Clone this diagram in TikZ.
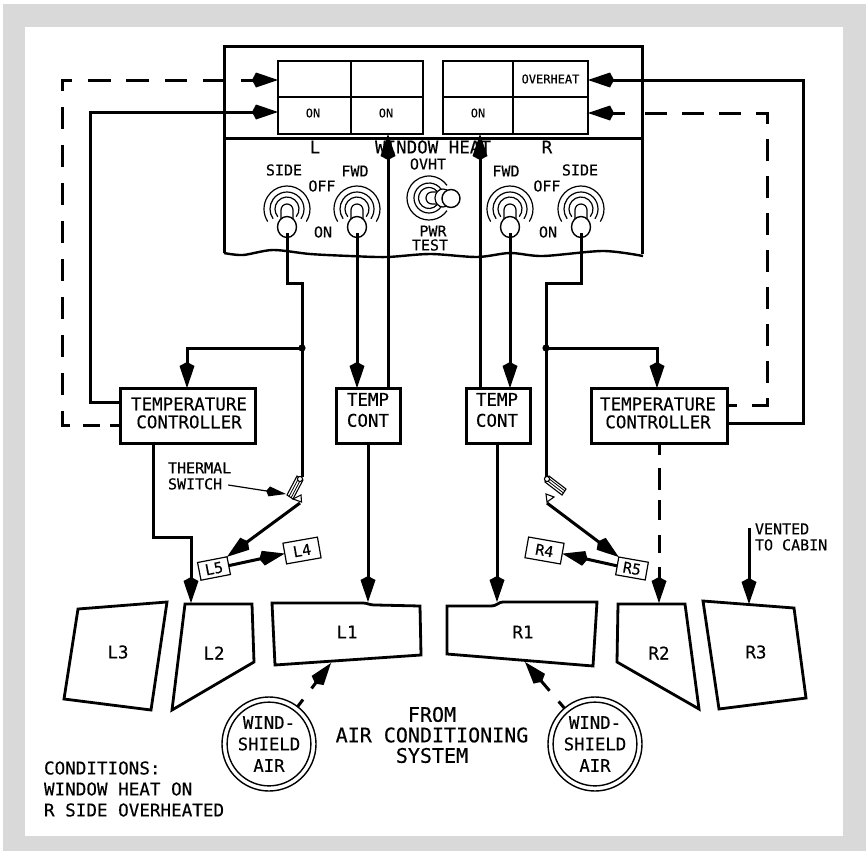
\documentclass[tikz,border=0pt]{standalone}
\usepackage{fontspec}
\setmainfont[FakeBold=0.25]{DejaVu Sans Mono}
\usetikzlibrary{arrows.meta}
\definecolor{framegray}{HTML}{D9D9D9}
\tikzset{
  x=1pt,y=-1pt,
  bigkite/.tip={Kite[length=26pt,width=15pt,inset=4pt,line width=0pt]},
  smallkite/.tip={Kite[length=20pt,width=10pt,inset=3pt,line width=0pt]},
  wire/.style={line width=3pt},
  arrowwire/.style={wire,-bigkite},
  panelline/.style={line width=3pt},
  glass/.style={line width=2.8pt,line join=miter},
  swline/.style={line width=1.2pt},
  f12/.style={font=\fontsize{12}{14}\selectfont},
  f15/.style={font=\fontsize{15}{16}\selectfont},
  f17/.style={font=\fontsize{17.5}{18}\selectfont},
  f18/.style={font=\fontsize{17.6}{21}\selectfont},
  f20/.style={font=\fontsize{20}{20.5}\selectfont},
  lbl/.style={inner sep=0pt,outer sep=0pt,align=center},
  cell/.style={draw,line width=2.7pt,inner sep=0pt,outer sep=0pt,anchor=north west,f12},
  box/.style={draw,line width=3pt,inner sep=0pt,outer sep=0pt,fill=white},
  tag/.style={draw,line width=1.2pt,inner sep=0pt,outer sep=0pt,fill=white,f15},
  airring/.style={circle,draw,line width=1.4pt,inner sep=0pt,outer sep=0pt},
}
\newcommand{\vtoggle}[1]{%
  \begin{scope}[shift={(#1,209)}]
    \draw[swline] ({23*cos(33)},{23*sin(33)}) arc[start angle=-33,end angle=213,radius=23pt];
    \draw[swline] ({17*cos(35)},{17*sin(35)}) arc[start angle=-35,end angle=215,radius=17pt];
    \draw[swline] ({12*cos(40)},{12*sin(40)}) arc[start angle=-40,end angle=220,radius=12pt];
    \draw[swline,fill=white] (-6,12) -- (-6,1) arc[start angle=180,end angle=0,radius=6pt] -- (6,12);
    \draw[line width=1.4pt,fill=white] (0,18) ellipse[x radius=9.5pt,y radius=10.5pt];
  \end{scope}}
\begin{document}
\begin{tikzpicture}
\useasboundingbox (0,0) rectangle (868,854);
\fill[white] (0,0) rectangle (868,854);
\fill[framegray] (3,4) rectangle (866,851);
\fill[white] (25,27) rectangle (843,836);

% panel
\draw[panelline] (222.5,46) -- (642,46);
\draw[panelline] (224,46) -- (224,253);
\draw[panelline] (642,45) -- (642,254);
\draw[panelline] (224,138) -- (642,138);
\draw[line width=2.4pt] plot[smooth] coordinates {(224,253) (243,255) (273,250) (310,254) (350,256) (387,257) (430,254) (477,257) (510,253) (543,256) (603,251) (643,256)};

% annunciators
\node[cell,minimum width=73pt,minimum height=36pt] (aLa) at (278,61) {};
\node[cell,minimum width=72pt,minimum height=36pt] (aLb) at (351,61) {};
\node[cell,minimum width=73pt,minimum height=37pt] (aLc) at (278,97) {};
\node[cell,minimum width=72pt,minimum height=37pt] (aLd) at (351,97) {};
\node[cell,minimum width=70pt,minimum height=36pt] (aRa) at (443,61) {};
\node[cell,minimum width=75pt,minimum height=36pt] (aRb) at (513,61) {OVERHEAT};
\node[cell,minimum width=70pt,minimum height=37pt] (aRc) at (443,97) {};
\node[cell,minimum width=75pt,minimum height=37pt] (aRd) at (513,97) {};
\node[lbl,f12] (on1) at (313,113) {ON};
\node[lbl,f12] (on2) at (386,113) {ON};
\node[lbl,f12] (on3) at (478,113) {ON};

% panel labels
\node[lbl,f17] (tL) at (315,147) {L};
\node[lbl,f17] (tWH) at (433,147) {WINDOW HEAT};
\node[lbl,f17] (tR) at (547,147) {R};
\node[lbl,f15] (t1) at (284,170) {SIDE};
\node[lbl,f15] (t2) at (355,171) {FWD};
\node[lbl,f15] (t3) at (322,186) {OFF};
\node[lbl,f15] (t4) at (323,232) {ON};
\node[lbl,f15] (t5) at (428,164) {OVHT};
\node[lbl,f15] (t6) at (433,231) {PWR};
\node[lbl,f15] (t7) at (430,245) {TEST};
\node[lbl,f15] (t8) at (506,171) {FWD};
\node[lbl,f15] (t9) at (547,186) {OFF};
\node[lbl,f15] (t10) at (548,232) {ON};
\node[lbl,f15] (t11) at (580,170) {SIDE};

% boxes
\node[box,minimum width=135pt,minimum height=55pt] (tcL) at (187.5,415.5) {};
\node[box,minimum width=136pt,minimum height=55pt] (tcR) at (659,415.5) {};
\node[box,minimum width=64pt,minimum height=55pt] (cL) at (368.5,415.5) {};
\node[box,minimum width=64pt,minimum height=55pt] (cR) at (498,415.5) {};
\node[lbl,f17] (tcLt) at (189,413) {TEMPERATURE\\CONTROLLER};
\node[lbl,f17] (tcRt) at (658,413) {TEMPERATURE\\CONTROLLER};
\node[lbl,font=\fontsize{17.5}{21}\selectfont] (cLt) at (368,410) {TEMP\\CONT};
\node[lbl,font=\fontsize{17.5}{21}\selectfont] (cRt) at (497,410) {TEMP\\CONT};

% coordinates
\coordinate (swLs) at (287,226);
\coordinate (swLf) at (357,226);
\coordinate (swRf) at (510,226);
\coordinate (swRs) at (581,226);
\coordinate (jL) at (302,348);
\coordinate (jR) at (546,348);
\coordinate (thL) at (302,477);
\coordinate (thR) at (546,477);
\coordinate (thLo) at (300,503);
\coordinate (thRo) at (547,503);
\coordinate (tipL2) at (191,603);
\coordinate (tipL1) at (368,602);
\coordinate (tipR1) at (497,602);
\coordinate (tipR2) at (659,603);
\coordinate (ventS) at (749,528);
\coordinate (tipR3) at (749,604);
\coordinate (tipW1) at (331,663);
\coordinate (tipW2) at (525,662);
\coordinate (stubL) at (241,80);
\coordinate (stubR) at (625,113);

% left wires into annunciators
\draw[arrowwire] (tcL.west |- 0,402) -- (90,402) -- (90,112) -- (aLc.west |- 0,112);
\draw[wire,dash pattern=on 21pt off 16pt on 22pt off 16pt on 23pt off 15pt on 23pt off 16pt on 21pt off 16pt on 22pt off 16pt on 22pt off 16pt on 22pt off 16pt on 22pt off 16pt on 22pt off 16pt on 22pt off 16pt on 22pt off 16pt on 22pt off 16pt on 22pt off 13pt on 17pt off 10pt on 15pt off 5pt] (224,80) -- (62,80) -- (62,425) -- (tcL.west |- 0,425);
\draw[arrowwire] (stubL) -- (aLa.west |- 0,80);

% right wires into annunciators
\draw[arrowwire] (tcR.east |- 0,423) -- (803,423) -- (803,80) -- (aRb.east |- 0,80);
\draw[wire,dash pattern=on 22pt off 15pt,dash phase=12pt] (tcR.east |- 0,405) -- (767,405) -- (767,113) -- (643,113);
\draw[arrowwire] (stubR) -- (aRd.east |- 0,113);

% vertical wires
\draw[wire] (swLs) -- (287,283) -- (302,283) -- (thL);
\draw[wire] (swRs) -- (581,283) -- (546,283) -- (thR);
\draw[arrowwire] (swLf) -- (cL.north -| swLf);
\draw[arrowwire] (swRf) -- (cR.north -| swRf);
\draw[arrowwire] (cL.north -| 388,0) -- (388,134);
\draw[arrowwire] (cR.north -| 480,0) -- (480,134);
\draw[arrowwire] (jL) -- (187,348) -- (tcL.north -| 187,0);
\draw[arrowwire] (jR) -- (657,348) -- (tcR.north -| 657,0);
\fill (jL) circle[radius=3.6pt];
\fill (jR) circle[radius=3.6pt];

% toggles
\vtoggle{287}
\vtoggle{357}
\vtoggle{510}
\vtoggle{581}
\begin{scope}[shift={(429,198)}]
  \draw[swline] ({22*cos(35)},{22*sin(35)}) arc[start angle=-35,end angle=-325,radius=22pt];
  \draw[swline] ({15*cos(35)},{15*sin(35)}) arc[start angle=-35,end angle=-325,radius=15pt];
  \draw[swline] ({10.5*cos(40)},{10.5*sin(40)}) arc[start angle=-40,end angle=-320,radius=10.5pt];
  \draw[swline,fill=white] (12,-6) -- (3,-6) arc[start angle=90,end angle=270,radius=6pt] -- (12,6);
  \draw[swline,fill=white] (14,0) ellipse[x radius=8pt,y radius=9pt];
  \draw[line width=1.4pt,fill=white] (22,0.5) circle[radius=9pt];
\end{scope}
\draw[wire] (swLs) ++(0,7) -- ++(0,10);
\draw[wire] (swLf) ++(0,7) -- ++(0,10);
\draw[wire] (swRf) ++(0,7) -- ++(0,10);
\draw[wire] (swRs) ++(0,7) -- ++(0,10);

% windows
\draw[glass] (78,609) -- (167,602) -- (151,710) -- (64,699) -- cycle;
\draw[glass] (185,604) -- (252,604) -- (254,662) -- (172,710) -- cycle;
\draw[glass] (272,603) -- (363,603) .. controls (368,603) and (368,605) .. (376,605) -- (420,606) -- (421,655) -- (275,665) -- cycle;
\draw[glass] (447,606) -- (490,606) .. controls (498,606) and (498,602) .. (503,602) -- (597,602) -- (593,666) -- (447,654) -- cycle;
\draw[glass] (618,604) -- (685,604) -- (699,709) -- (617,662) -- cycle;
\draw[glass] (703,601) -- (794,608) -- (806,698) -- (719,709) -- cycle;
\node[lbl,f17] (nL1) at (347,632) {L1};
\node[lbl,f17] (nL2) at (214,653) {L2};
\node[lbl,f17] (nL3) at (118,652) {L3};
\node[lbl,f17] (nR1) at (523,632) {R1};
\node[lbl,f17] (nR2) at (659,653) {R2};
\node[lbl,f17] (nR3) at (756,652) {R3};

% thermal switches
\draw[line width=1.1pt,fill=white] (303,480) -- (297,476) -- (287,495) -- (293,499) -- cycle;
\draw[line width=0.8pt] (301,479) -- (291,498) (299,477.5) -- (289,496.5);
\draw[line width=1.1pt,fill=white] (300,479) circle[radius=2.6pt];
\draw[line width=1.1pt,fill=white] (301,495) -- (301.5,502) -- (293,499) -- cycle;
\draw[line width=1.1pt,fill=white] (549,476) -- (545,482) -- (562,495) -- (566,489) -- cycle;
\draw[line width=0.8pt] (548,478) -- (565,491) (546.5,480) -- (563.5,493);
\draw[line width=1.1pt,fill=white] (547,479) circle[radius=2.6pt];
\draw[line width=1.1pt,fill=white] (546,494) -- (554,497) -- (547,502) -- cycle;

% tags
\node[tag,rotate=11,minimum width=30pt,minimum height=18pt] (L5) at (214,568.5) {L5};
\node[tag,rotate=10,minimum width=35pt,minimum height=21pt] (L4) at (302,550.5) {L4};
\node[tag,rotate=-10,minimum width=36pt,minimum height=21pt] (R4) at (544.5,550.5) {R4};
\node[tag,rotate=-10,minimum width=30pt,minimum height=18pt] (R5) at (632,568.5) {R5};
\draw[arrowwire] (thLo) -- (L5.north east);
\draw[arrowwire] (thRo) -- (R5.north west);
\draw[arrowwire] (L5.east) -- (L4.west);
\draw[arrowwire] (R5.west) -- (R4.east);

% thermal label
\node[lbl,f15,align=left,anchor=west] (ts) at (168,476) {THERMAL\\SWITCH};
\draw[line width=1.2pt,-smallkite] (ts.east |- 0,485) ++(-3,0) -- (286,494);

% lower connectors
\draw[arrowwire] (tcL.south -| 153,0) -- (153,537) -- (191,537) -- (tipL2);
\draw[arrowwire] (cL.south -| tipL1) -- (tipL1);
\draw[arrowwire] (cR.south -| tipR1) -- (tipR1);
\draw[wire,-bigkite,dash pattern=on 12pt off 13pt on 22pt off 10pt on 20pt off 15pt on 18pt off 14pt on 60pt off 0pt] (tcR.south -| tipR2) -- (tipR2);
\draw[arrowwire] (ventS) -- (tipR3);
\node[lbl,f15,align=left,anchor=west] (vent) at (755,537) {VENTED\\TO CABIN};

% windshield air
\node[airring,minimum size=94pt] (wsL) at (269,744) {};
\node[airring,minimum size=80pt,align=center,font=\fontsize{17.3}{21.5}\selectfont] (wsLi) at (269,744) {WIND-\\SHIELD\\AIR};
\node[airring,minimum size=94pt] (wsR) at (595,744) {};
\node[airring,minimum size=80pt,align=center,font=\fontsize{17.3}{21.5}\selectfont] (wsRi) at (595,744) {WIND-\\SHIELD\\AIR};
\draw[wire,-bigkite,dash pattern=on 9pt off 14pt on 100pt off 0pt] (wsL) -- (tipW1);
\draw[wire,-bigkite,dash pattern=on 9pt off 14pt on 100pt off 0pt] (wsR) -- (tipW2);
\node[lbl,f20] (from) at (432,735) {FROM\\AIR CONDITIONING\\SYSTEM};
\node[lbl,f18,align=left,anchor=west] (cond) at (44,789) {CONDITIONS:\\WINDOW HEAT ON\\R SIDE OVERHEATED};
\end{tikzpicture}
\end{document}
